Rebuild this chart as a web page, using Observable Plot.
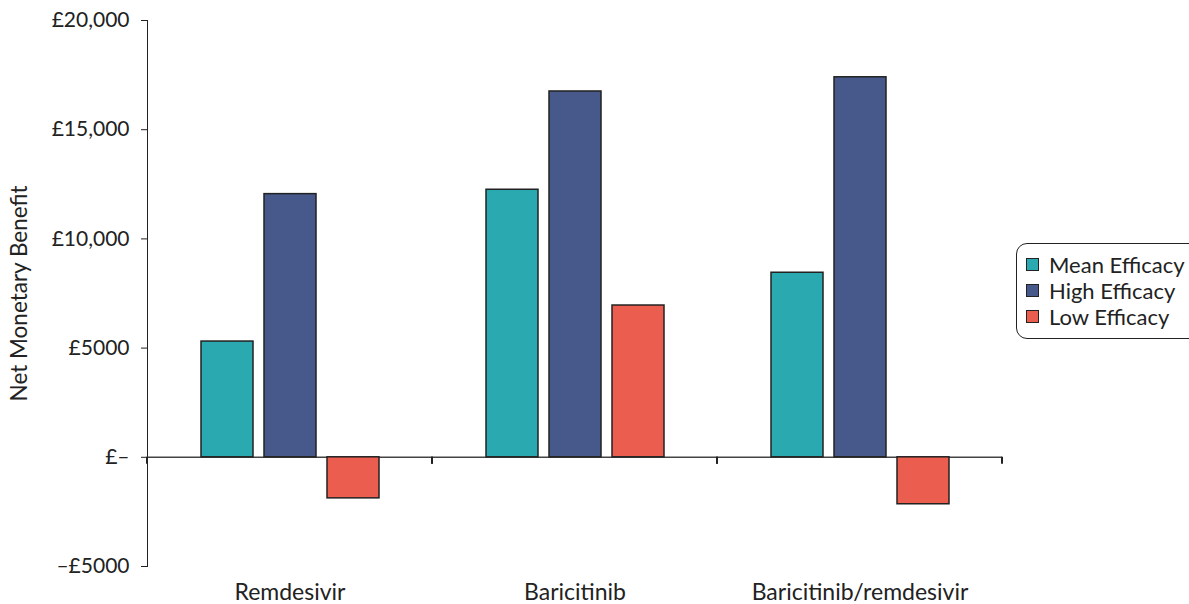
<!DOCTYPE html>
<html>
<head>
<meta charset="utf-8">
<script src="https://cdn.jsdelivr.net/npm/d3@7"></script>
<script src="https://cdn.jsdelivr.net/npm/@observablehq/plot@0.6"></script>
<style>
  html, body { margin: 0; padding: 0; background: #fff; }
  #wrap { position: relative; width: 1189px; height: 604px; overflow: hidden; font-family: Lato, sans-serif; }
  #legend { position: absolute; left: 1016px; top: 243px; width: 184px; height: 96px; border: 1.5px solid #222; border-radius: 11px; box-sizing: border-box; padding: 7px 0 0 9px; }
  .item { display: flex; align-items: center; height: 26px; font-size: 22px; color: #222; }
  .sw { width: 11px; height: 11px; border: 1.5px solid #222; margin-right: 10px; flex: none; }
  svg g[aria-label="fx-axis tick label"] text { font-size: 23px; }
  svg g[aria-label="y-axis label"] text { font-size: 22.5px; }
  svg g[aria-label="y-axis tick label"] text { font-size: 21px; }
</style>
</head>
<body>
<div id="wrap"><div id="chart"></div><div id="legend"></div></div>
<script>
const categories = ["Remdesivir", "Baricitinib", "Baricitinib/remdesivir"];
const seriesNames = ["Mean Efficacy", "High Efficacy", "Low Efficacy"];
const meanValues = [5300, 12250, 8450];
const highValues = [12050, 16750, 17400];
const lowValues = [-1880, 6950, -2150];
const seriesColors = ["#2aa9b0", "#46598a", "#eb5d4e"];
const yTicks = [-5000, 0, 5000, 10000, 15000, 20000];
const yTickLabels = ["–£5000", "£–", "£5000", "£10,000", "£15,000", "£20,000"];

const seriesValues = [meanValues, highValues, lowValues];
const data = [];
categories.forEach((c, i) => {
  seriesNames.forEach((s, j) => data.push({category: c, series: s, value: seriesValues[j][i]}));
});

function boundaryTicks(index, scales, values, dimensions) {
  const y0 = scales.y(0);
  const left = dimensions.marginLeft;
  const right = dimensions.width - dimensions.marginRight;
  const g = d3.create("svg:g");
  for (const x of [left, right]) {
    g.append("line").attr("x1", x).attr("x2", x).attr("y1", y0).attr("y2", y0 + 7)
      .attr("stroke", "#222").attr("stroke-width", 2);
  }
  return g.node();
}

const chart = Plot.plot({
  width: 1189,
  height: 604,
  marginTop: 20,
  marginBottom: 38,
  marginLeft: 146,
  marginRight: 186,
  style: {fontFamily: "Lato, sans-serif", fontSize: "20px", color: "#222", background: "#fff"},
  fx: {domain: categories, padding: 0, label: null, axis: "bottom", tickSize: 0, tickPadding: 17},
  x: {domain: seriesNames, paddingInner: 0.18, paddingOuter: 0.84, axis: null},
  y: {domain: [-5000, 20000], ticks: yTicks, tickFormat: d => yTickLabels[yTicks.indexOf(d)],
      tickSize: 6, tickPadding: 12, line: true, label: "Net Monetary Benefit", labelAnchor: "center",
      labelOffset: 136, labelArrow: "none"},
  color: {domain: seriesNames, range: seriesColors},
  marks: [
    Plot.ruleY([0], {stroke: "#444", strokeWidth: 1.5}),
    Plot.barY(data, {fx: "category", x: "series", y: "value", fill: "series", stroke: "#222", strokeWidth: 1.5}),
    boundaryTicks
  ]
});
document.getElementById("chart").appendChild(chart);

const legend = d3.select("#legend");
seriesNames.forEach((s, i) => {
  const it = legend.append("div").attr("class", "item");
  it.append("div").attr("class", "sw").style("background", seriesColors[i]);
  it.append("span").text(s);
});
</script>
</body>
</html>
